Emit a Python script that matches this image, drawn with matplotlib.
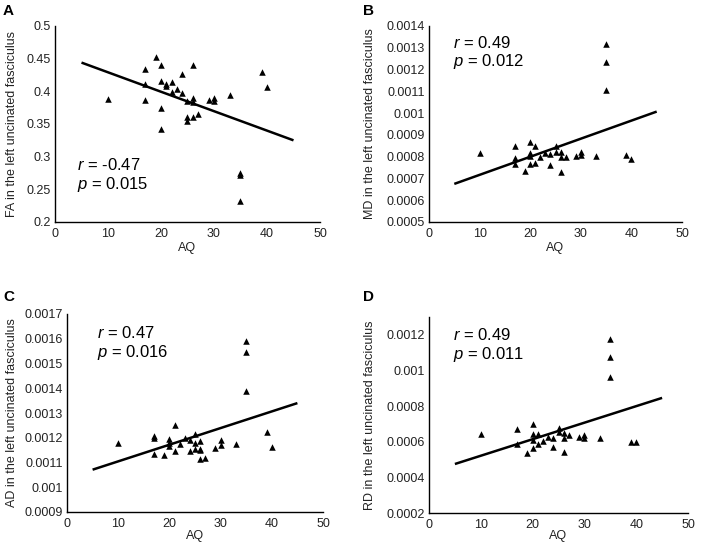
import numpy as np
import matplotlib
matplotlib.use("Agg")
import matplotlib.pyplot as plt
from matplotlib.transforms import blended_transform_factory
from matplotlib.ticker import FuncFormatter

plt.rcParams['font.family'] = ['Liberation Sans', 'DejaVu Sans']
plt.rcParams['mathtext.fontset'] = 'custom'
plt.rcParams['mathtext.rm'] = 'Liberation Sans'
plt.rcParams['mathtext.it'] = 'Liberation Sans:italic'

# ---- data ----
aq_a = [10, 17, 17, 17, 19, 20, 20, 20, 20, 21, 21, 22, 22, 23, 24, 24, 25, 25, 25,
        26, 26, 26, 26, 27, 29, 30, 30, 33, 35, 35, 35, 39, 40]
fa = [0.388, 0.434, 0.411, 0.387, 0.452, 0.441, 0.416, 0.374, 0.342, 0.411, 0.408,
      0.415, 0.399, 0.403, 0.426, 0.398, 0.385, 0.361, 0.355, 0.440, 0.390, 0.384,
      0.361, 0.365, 0.387, 0.390, 0.385, 0.395, 0.275, 0.272, 0.232, 0.430, 0.406]

aq_b = [10, 17, 17, 17, 19, 20, 20, 20, 20, 21, 21, 22, 23, 24, 24, 25, 25, 26, 26,
        26, 27, 29, 30, 30, 33, 35, 35, 35, 39, 40]
md = [0.000817, 0.000851, 0.000794, 0.000768, 0.000733, 0.000866, 0.000817, 0.000805,
      0.000765, 0.000850, 0.000771, 0.000797, 0.000817, 0.000810, 0.000764, 0.000848,
      0.000822, 0.000822, 0.000799, 0.000730, 0.000799, 0.000805, 0.000820, 0.000807,
      0.000805, 0.001317, 0.001236, 0.001106, 0.000808, 0.000787]

aq_c = [10, 17, 17, 17, 19, 20, 20, 20, 21, 21, 22, 23, 24, 24, 25, 25, 25, 26, 26,
        26, 26, 27, 29, 30, 30, 33, 35, 35, 35, 39, 40]
ad = [0.001179, 0.001208, 0.001201, 0.001136, 0.001132, 0.001196, 0.001180, 0.001165,
      0.001253, 0.001146, 0.001175, 0.001199, 0.001191, 0.001147, 0.001217, 0.001179,
      0.001156, 0.001188, 0.001156, 0.001150, 0.001116, 0.001120, 0.001159, 0.001190,
      0.001171, 0.001174, 0.001589, 0.001546, 0.001387, 0.001223, 0.001163]

aq_d = [10, 17, 17, 19, 20, 20, 20, 20, 21, 21, 22, 23, 24, 24, 25, 25, 26, 26, 26,
        27, 29, 30, 30, 33, 35, 35, 35, 39, 40]
rd = [0.000641, 0.000673, 0.000585, 0.000535, 0.000701, 0.000641, 0.000609, 0.000563,
      0.000641, 0.000586, 0.000606, 0.000628, 0.000619, 0.000572, 0.000675, 0.000656,
      0.000647, 0.000619, 0.000541, 0.000636, 0.000625, 0.000639, 0.000622, 0.000622,
      0.001178, 0.001075, 0.000963, 0.000600, 0.000600]

# regression line ends (at AQ = 5 and AQ = 45)
fit_x = [5, 45]
fit_a = [0.444, 0.325]
fit_b = [0.000675, 0.001007]
fit_c = [0.001071, 0.001340]
fit_d = [0.000475, 0.000846]

stats = [("-0.47", "0.015"), ("0.49", "0.012"), ("0.47", "0.016"), ("0.49", "0.011")]
ylabels = ["FA in the left uncinated fasciculus",
           "MD in the left uncinated fasciculus",
           "AD in the left uncinated fasciculus",
           "RD in the left uncinated fasciculus"]
letters = ["A", "B", "C", "D"]
yticks = [np.arange(0.2, 0.501, 0.05),
          np.arange(0.0005, 0.00141, 0.0001),
          np.arange(0.0009, 0.00171, 0.0001),
          np.arange(0.0002, 0.00121, 0.0002)]
ylims = [(0.2, 0.5), (0.0005, 0.0014), (0.0009, 0.0017), (0.0002, 0.0013)]

W, H = 701, 547
fig = plt.figure(figsize=(W / 100, H / 100), dpi=100)

# axes boxes in pixels: left, top, right, bottom
boxes = [(55, 26, 320, 222), (429, 26, 682, 222),
         (67, 314, 323, 512), (429, 317, 688, 513)]
ylab_x = [18, 376, 18, 376]
xlab_y = [242, 242, 530, 530]
letter_pos = [(3, 4), (363, 4), (3, 290), (363, 290)]
text_pos = [(77, 165, 185), (453, 43, 62), (97, 333, 353), (453, 335, 355)]

series = [(aq_a, fa, fit_a), (aq_b, md, fit_b), (aq_c, ad, fit_c), (aq_d, rd, fit_d)]

for i, (xs, ys, fit) in enumerate(series):
    l, t, r, b = boxes[i]
    ax = fig.add_axes([l / W, 1 - b / H, (r - l) / W, (b - t) / H])
    ax.scatter(xs, ys, marker='^', s=22, color='black', linewidths=0, zorder=3)
    ax.plot(fit_x, fit, color='black', lw=1.8, solid_capstyle='butt')
    ax.set_xlim(0, 50)
    ax.set_ylim(*ylims[i])
    ax.set_xticks([0, 10, 20, 30, 40, 50])
    ax.set_yticks(yticks[i])
    ax.yaxis.set_major_formatter(FuncFormatter(lambda v, p: '{:g}'.format(round(v, 6))))
    ax.tick_params(length=0, labelsize=9, colors='#222222')
    ax.tick_params(axis='x', pad=4)
    ax.tick_params(axis='y', pad=3)
    for s in ['top', 'right']:
        ax.spines[s].set_visible(False)
    for s in ['left', 'bottom']:
        ax.spines[s].set_linewidth(1.0)
    ax.set_ylabel(ylabels[i], fontsize=9, color='#222222')
    ax.yaxis.set_label_coords(ylab_x[i] / W, 0.5,
                              transform=blended_transform_factory(fig.transFigure, ax.transAxes))
    ax.set_xlabel("AQ", fontsize=9, color='#222222')
    ax.xaxis.set_label_coords(0.5, 1 - xlab_y[i] / H,
                              transform=blended_transform_factory(ax.transAxes, fig.transFigure))
    ax.xaxis.label.set_va('top')

    lx, ly = letter_pos[i]
    fig.text(lx / W, 1 - ly / H, letters[i], fontsize=11, fontweight='bold',
             ha='left', va='top')
    tx, ry, py = text_pos[i]
    fig.text(tx / W, 1 - ry / H, "$r$ = " + stats[i][0], fontsize=12, va='center', ha='left')
    fig.text(tx / W, 1 - py / H, "$p$ = " + stats[i][1], fontsize=12, va='center', ha='left')

fig.savefig("out.png", dpi=100)
